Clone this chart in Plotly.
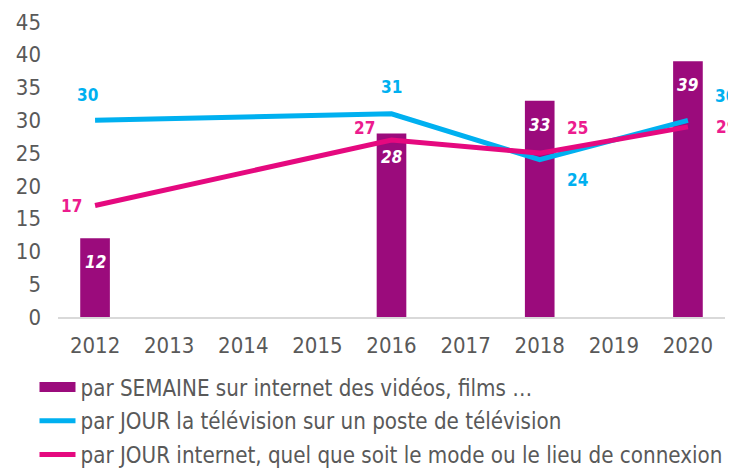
import plotly.graph_objects as go

# Données
years = ["2012", "2013", "2014", "2015", "2016", "2017", "2018", "2019", "2020"]

bar_years = ["2012", "2016", "2018", "2020"]
videos_semaine = [12, 28, 33, 39]

tv_years = ["2012", "2016", "2018", "2020"]
tv_jour = [30, 31, 24, 30]

net_years = ["2012", "2016", "2018", "2020"]
internet_jour = [17, 27, 25, 29]

names = [
    "par SEMAINE sur internet des vidéos, films …",
    "par JOUR la télévision sur un poste de télévision",
    "par JOUR internet, quel que soit le mode ou le lieu de connexion",
]

PURPLE = "#9B0B7C"
BLUE = "#00B0F0"
PINK = "#E5097F"
LABEL_PINK = "#EC1C8E"
FONT = "DejaVu Sans Condensed, DejaVu Sans"

fig = go.Figure()

fig.add_trace(go.Bar(
    x=bar_years, y=videos_semaine, width=0.4,
    marker=dict(color=PURPLE, line=dict(width=0)),
    showlegend=False,
))
# entrée de légende rectangulaire pour les barres
fig.add_trace(go.Scatter(
    x=[None], y=[None], mode="lines", name=names[0],
    line=dict(color=PURPLE, width=12), legendgroup="a",
))
fig.add_trace(go.Scatter(
    x=tv_years, y=tv_jour, mode="lines", name=names[1],
    line=dict(color=BLUE, width=5), legendgroup="b",
))
fig.add_trace(go.Scatter(
    x=net_years, y=internet_jour, mode="lines", name=names[2],
    line=dict(color=PINK, width=5), legendgroup="c",
))


def idx(year):
    # position de la catégorie sur l'axe (les chaînes "2012" seraient lues comme des nombres)
    return years.index(year)


annotations = []
# étiquettes des barres (blanches, italique gras)
for x, v in zip(bar_years, videos_semaine):
    annotations.append(dict(
        x=idx(x), y=v, text=f"<b><i>{v}</i></b>", showarrow=False,
        yanchor="middle", yshift=-24,
        font=dict(family=FONT, size=17, color="white"),
    ))

tv_shift = [(-8, 25), (0, 27), (38, -20), (38, 24)]
for x, v, (dx, dy) in zip(tv_years, tv_jour, tv_shift):
    annotations.append(dict(
        x=idx(x), y=v, text=f"<b>{v}</b>", showarrow=False,
        xshift=dx, yshift=dy,
        font=dict(family=FONT, size=17, color=BLUE),
    ))

net_shift = [(-24, 0), (-27, 12), (38, 25), (39, 0)]
for x, v, (dx, dy) in zip(net_years, internet_jour, net_shift):
    annotations.append(dict(
        x=idx(x), y=v, text=f"<b>{v}</b>", showarrow=False,
        xshift=dx, yshift=dy,
        font=dict(family=FONT, size=17, color=LABEL_PINK),
    ))

fig.update_layout(
    width=736, height=471,
    margin=dict(l=50, r=19, t=14, b=162, autoexpand=False),
    paper_bgcolor="white", plot_bgcolor="white",
    font=dict(family=FONT, color="#595959"),
    annotations=annotations,
    xaxis=dict(
        type="category", categoryorder="array", categoryarray=years,
        range=[-0.5, 8.5], showgrid=False, zeroline=False,
        showline=True, linecolor="#D9D9D9", linewidth=2,
        ticks="", tickangle=0, ticklabelstandoff=8,
        tickfont=dict(size=22, color="#595959"),
    ),
    yaxis=dict(
        range=[0, 45], dtick=5, showgrid=False, zeroline=False,
        showline=False, ticks="", ticklabelstandoff=16,
        tickfont=dict(size=22, color="#595959"),
    ),
    legend=dict(
        orientation="v", xref="container", yref="container",
        x=0.036, y=0.24, xanchor="left", yanchor="top",
        traceorder="grouped", tracegroupgap=2,
        font=dict(family=FONT, size=22.2, color="#595959"),
        itemwidth=36, bgcolor="rgba(0,0,0,0)",
    ),
    bargap=0.6,
)

fig.write_html("out.html")
